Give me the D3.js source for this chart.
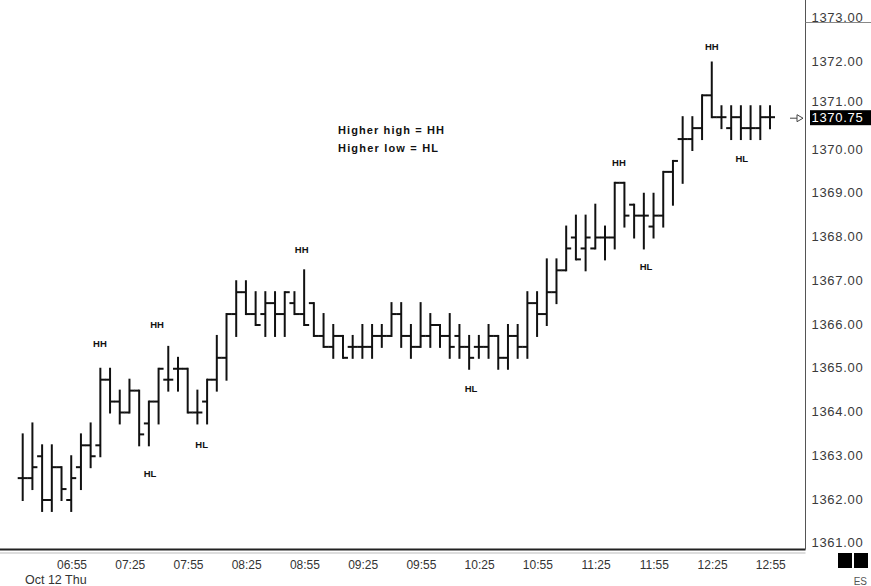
<!DOCTYPE html>
<html>
<head>
<meta charset="utf-8">
<script src="https://cdn.jsdelivr.net/npm/d3@7/dist/d3.min.js"></script>
<style>
  html, body { margin: 0; padding: 0; background: #ffffff; }
  svg { display: block; }
  text { font-family: "Liberation Sans", Arial, sans-serif; }
</style>
</head>
<body>
<div id="chart"></div>
<script>
// ---- DATA ----
const times = [
  "06:35","06:40","06:45","06:50","06:55","07:00","07:05","07:10","07:15","07:20",
  "07:25","07:30","07:35","07:40","07:45","07:50","07:55","08:00","08:05","08:10",
  "08:15","08:20","08:25","08:30","08:35","08:40","08:45","08:50","08:55","09:00",
  "09:05","09:10","09:15","09:20","09:25","09:30","09:35","09:40","09:45","09:50",
  "09:55","10:00","10:05","10:10","10:15","10:20","10:25","10:30","10:35","10:40",
  "10:45","10:50","10:55","11:00","11:05","11:10","11:15","11:20","11:25","11:30",
  "11:35","11:40","11:45","11:50","11:55","12:00","12:05","12:10","12:15","12:20",
  "12:25","12:30","12:35","12:40","12:45","12:50","12:55","13:00"
];
const opens = [
  1362.5,1362.5,1363.0,1362.0,1362.75,1362.0,1362.75,1363.25,1363.25,1364.75,
  1364.25,1364.0,1364.5,1363.75,1364.25,1364.75,1365.0,1365.0,1364.0,1364.25,
  1364.75,1365.25,1366.25,1366.75,1366.25,1366.25,1366.5,1366.25,1366.5,1366.25,
  1366.5,1365.75,1365.5,1365.75,1365.5,1365.5,1365.5,1365.75,1365.75,1366.25,
  1365.75,1365.5,1365.75,1366.0,1365.75,1365.75,1365.5,1365.5,1365.5,1365.75,
  1365.25,1365.75,1365.5,1366.5,1366.25,1366.75,1367.25,1368.0,1367.75,1367.75,
  1368.0,1368.0,1369.25,1368.75,1368.5,1368.25,1368.5,1369.5,1370.25,1370.25,
  1370.5,1371.25,1370.75,1370.5,1370.75,1370.5,1370.5,1370.75
];
const highs = [
  1363.5,1363.75,1363.25,1363.25,1362.75,1363.0,1363.5,1363.75,1365.0,1365.0,
  1364.5,1364.75,1364.5,1364.25,1365.0,1365.5,1365.25,1365.0,1364.5,1364.75,
  1365.75,1366.25,1367.0,1367.0,1366.75,1366.75,1366.75,1366.75,1366.75,1367.25,
  1366.5,1366.25,1366.0,1365.75,1365.75,1366.0,1366.0,1366.0,1366.5,1366.5,
  1366.0,1366.5,1366.25,1366.0,1366.25,1366.0,1365.75,1365.75,1366.0,1365.75,
  1366.0,1366.0,1366.75,1366.75,1367.5,1367.5,1368.25,1368.5,1368.5,1368.75,
  1368.25,1369.25,1369.25,1368.75,1369.0,1369.0,1369.5,1369.75,1370.75,1370.75,
  1371.25,1372.0,1371.0,1371.0,1371.0,1371.0,1371.0,1371.0
];
const lows = [
  1362.0,1362.25,1361.75,1361.75,1362.0,1361.75,1362.25,1362.75,1363.0,1364.0,
  1363.75,1364.0,1363.25,1363.25,1363.75,1364.5,1364.5,1364.0,1363.75,1363.75,
  1364.5,1364.75,1365.75,1366.25,1366.0,1365.75,1365.75,1365.75,1366.25,1366.0,
  1365.75,1365.5,1365.25,1365.25,1365.25,1365.25,1365.25,1365.5,1365.75,1365.5,
  1365.25,1365.5,1365.5,1365.5,1365.25,1365.25,1365.0,1365.25,1365.25,1365.0,
  1365.0,1365.25,1365.25,1365.75,1366.0,1366.5,1367.25,1367.5,1367.25,1367.75,
  1367.5,1367.75,1368.25,1368.0,1367.75,1368.0,1368.25,1368.75,1369.25,1370.0,
  1370.25,1370.75,1370.5,1370.25,1370.25,1370.25,1370.25,1370.5
];
const closes = [
  1362.5,1362.75,1362.0,1362.75,1362.25,1362.5,1363.25,1363.0,1364.75,1364.25,
  1364.0,1364.5,1363.5,1364.25,1365.0,1364.75,1365.0,1364.0,1364.0,1364.75,
  1365.25,1366.25,1366.75,1366.25,1366.0,1366.5,1366.25,1366.75,1366.25,1366.0,
  1365.75,1365.5,1365.75,1365.25,1365.5,1365.5,1365.75,1365.75,1366.25,1365.75,
  1365.5,1365.75,1366.0,1365.75,1365.5,1365.5,1365.25,1365.5,1365.75,1365.25,
  1365.75,1365.5,1366.5,1366.25,1366.75,1367.25,1367.75,1367.5,1368.0,1368.0,
  1368.0,1369.25,1368.5,1368.5,1368.5,1368.5,1369.5,1369.75,1370.25,1370.5,
  1371.25,1370.75,1370.75,1370.75,1370.5,1370.5,1370.75,1370.75
];
const xTickLabels = ["06:55","07:25","07:55","08:25","08:55","09:25","09:55","10:25","10:55","11:25","11:55","12:25","12:55"];
const yTickValues = [1361,1362,1363,1364,1365,1366,1367,1368,1369,1370,1371,1372,1373];
const lastPrice = 1370.75;
const dateLabel = "Oct 12 Thu";
const symbolLabel = "ES";
const legendLines = ["Higher high = HH", "Higher low = HL"];
// annotation anchors: fractional bar index and price level
const annoAt    = [7.96, 13.84, 13.12, 18.44, 28.75, 46.19, 61.44, 64.22, 71.0, 74.09];
const annoPrice = [1365.58, 1366.0, 1362.61, 1363.26, 1367.73, 1364.55, 1369.70, 1367.33, 1372.36, 1369.81];
const annoText  = ["HH","HH","HL","HL","HH","HL","HH","HL","HH","HL"];

// ---- LAYOUT ----
const W = 871, H = 586;
const plotRight = 805.5, plotBottom = 549.5;

const svg = d3.select("#chart").append("svg")
  .attr("width", W).attr("height", H)
  .attr("viewBox", `0 0 ${W} ${H}`);

svg.append("rect").attr("width", W).attr("height", H).attr("fill", "#ffffff");

const bars = times.map((t, i) => ({t, i, o: opens[i], h: highs[i], l: lows[i], c: closes[i]}));

const x = d3.scaleLinear().domain([0, times.length - 1]).range([22.7, 770]);
const y = d3.scaleLinear().domain([1361, 1373]).range([543.75, 18.75]);

// plot frame
svg.append("line").attr("x1", 0).attr("x2", plotRight).attr("y1", plotBottom).attr("y2", plotBottom)
  .attr("stroke", "#222").attr("stroke-width", 2);
svg.append("line").attr("x1", 0).attr("x2", plotRight).attr("y1", plotBottom + 3.5).attr("y2", plotBottom + 3.5)
  .attr("stroke", "#bbb").attr("stroke-width", 1);
svg.append("line").attr("x1", plotRight).attr("x2", plotRight).attr("y1", 0).attr("y2", plotBottom)
  .attr("stroke", "#555").attr("stroke-width", 1);
svg.append("line").attr("x1", plotRight).attr("x2", W).attr("y1", 22.5).attr("y2", 22.5)
  .attr("stroke", "#888").attr("stroke-width", 1);

// y axis (right side labels)
const yAxis = d3.axisRight(y).tickValues(yTickValues).tickSize(0).tickPadding(0)
  .tickFormat(d3.format(".2f"));
const yg = svg.append("g").attr("transform", `translate(${plotRight + 6},-1)`).call(yAxis);
yg.select(".domain").remove();
yg.selectAll("text").attr("fill", "#3a3a3a").style("font-size", "13px")
  .style("letter-spacing", "0.7px").attr("x", 0)
  .attr("dy", d => d === 1371 ? "0.05em" : "0.32em");

// last price box
const lpY = y(lastPrice);
svg.append("rect").attr("x", plotRight + 4.5).attr("y", lpY - 7).attr("width", W - plotRight - 4.5).attr("height", 15)
  .attr("fill", "#000");
svg.append("text").attr("x", plotRight + 6).attr("y", lpY + 0.5).attr("dy", "0.35em")
  .attr("fill", "#fff").style("font-size", "13px").style("letter-spacing", "0.7px")
  .text(d3.format(".2f")(lastPrice));
// arrow marker
svg.append("line").attr("x1", x(times.length - 1) + 20).attr("x2", x(times.length - 1) + 28)
  .attr("y1", lpY + 1).attr("y2", lpY + 1).attr("stroke", "#444").attr("stroke-width", 1);
svg.append("path")
  .attr("d", `M${x(times.length - 1) + 27},${lpY - 2.5} L${x(times.length - 1) + 33},${lpY + 1} L${x(times.length - 1) + 27},${lpY + 4.5} Z`)
  .attr("fill", "#fff").attr("stroke", "#444").attr("stroke-width", 1);

// x axis labels
const xg = svg.append("g");
xg.selectAll("text.xt").data(xTickLabels).join("text")
  .attr("class", "xt")
  .attr("x", d => x(times.indexOf(d)) + 10.5)
  .attr("y", 569)
  .attr("text-anchor", "middle")
  .attr("fill", "#333")
  .style("font-size", "12px")
  .text(d => d);
svg.append("text").attr("x", 25).attr("y", 584).attr("fill", "#333")
  .style("font-size", "12.5px").text(dateLabel);

// bottom-right squares and symbol
svg.append("rect").attr("x", 838).attr("y", 553).attr("width", 14).attr("height", 15).attr("fill", "#000");
svg.append("rect").attr("x", 854).attr("y", 553).attr("width", 14).attr("height", 15).attr("fill", "#000");
svg.append("text").attr("x", 867).attr("y", 585).attr("text-anchor", "end").attr("fill", "#555")
  .style("font-size", "10px").text(symbolLabel);

// OHLC bars
const g = svg.append("g").attr("stroke", "#111").attr("stroke-width", 2).attr("stroke-linecap", "butt");
g.selectAll("line.hl").data(bars).join("line").attr("class", "hl")
  .attr("x1", d => x(d.i)).attr("x2", d => x(d.i))
  .attr("y1", d => y(d.h) - 1).attr("y2", d => y(d.l) + 1);
g.selectAll("line.op").data(bars).join("line").attr("class", "op")
  .attr("x1", d => x(d.i) - 5).attr("x2", d => x(d.i))
  .attr("y1", d => y(d.o)).attr("y2", d => y(d.o));
g.selectAll("line.cl").data(bars).join("line").attr("class", "cl")
  .attr("x1", d => x(d.i)).attr("x2", d => x(d.i) + 5)
  .attr("y1", d => y(d.c)).attr("y2", d => y(d.c));

// annotations
svg.selectAll("text.anno").data(annoText).join("text").attr("class", "anno")
  .attr("x", (d, k) => x(annoAt[k]))
  .attr("y", (d, k) => y(annoPrice[k]))
  .attr("dy", "0.35em")
  .attr("text-anchor", "middle")
  .attr("fill", "#111")
  .style("font-size", "9.5px").style("font-weight", "bold")
  .text(d => d);

// legend text
svg.selectAll("text.leg").data(legendLines).join("text").attr("class", "leg")
  .attr("x", 338).attr("y", (d, k) => 130 + k * 18).attr("dy", "0.35em")
  .attr("fill", "#111").style("font-size", "11px").style("font-weight", "bold")
  .attr("textLength", (d, k) => k === 0 ? 106 : 100).attr("lengthAdjust", "spacing")
  .text(d => d);
</script>
</body>
</html>
